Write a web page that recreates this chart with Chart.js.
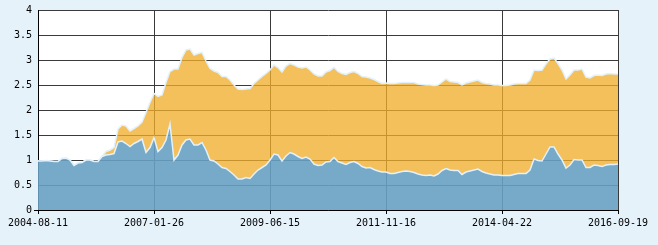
<!DOCTYPE html>
<html lang="en">
<head>
    <meta charset="UTF-8">
    <title>Ratio chart</title>
    <script src="https://cdn.jsdelivr.net/npm/chart.js"></script>
    <style>
        html, body { margin: 0; padding: 0; background: #e6f2fa; }
        #wrap { width: 658px; height: 245px; }
    </style>
</head>
<body>
    <div id="wrap"><canvas id="chart" width="658" height="245"></canvas></div>

    <script>
        // tick labels shown on the x axis (every 29 points)
        const tickLabels = ['2004-08-11', '2007-01-26', '2009-06-15', '2011-11-16', '2014-04-22', '2016-09-19'];
        const tickStep = 29;

        // lower (blue) series
        const blueValues = [
            0.98, 0.98, 0.99, 0.98, 0.97, 0.97, 1.03, 1.04, 1.0, 0.89, 0.94, 0.95, 1.0, 1.0, 0.97, 0.97, 1.07,
            1.1, 1.11, 1.13, 1.36, 1.38, 1.33, 1.27, 1.33, 1.37, 1.42, 1.15,
            1.25, 1.45, 1.17, 1.25, 1.4, 1.72, 1.0, 1.1, 1.3, 1.4, 1.42, 1.3, 1.3, 1.35, 1.2, 1.0, 0.98, 0.92,
            0.85, 0.83, 0.77, 0.7, 0.62, 0.62, 0.65, 0.63, 0.72, 0.8, 0.85, 0.9, 1.0,
            1.12, 1.1, 0.98, 1.08, 1.15, 1.12, 1.07, 1.03, 1.06, 1.02, 0.92, 0.89, 0.9, 0.96, 0.97, 1.05,
            0.97, 0.94, 0.91, 0.95, 0.97, 0.93, 0.87, 0.84, 0.85, 0.81, 0.78, 0.76, 0.76, 0.73,
            0.73, 0.75, 0.77, 0.78, 0.77, 0.75, 0.72, 0.7, 0.69, 0.7, 0.68, 0.72, 0.79, 0.83, 0.8, 0.79,
            0.79, 0.71, 0.76, 0.78, 0.8, 0.82, 0.77, 0.74, 0.72, 0.7, 0.7, 0.69, 0.69,
            0.69, 0.71, 0.73, 0.73, 0.73, 0.8, 1.02, 0.99, 0.98, 1.12, 1.26, 1.26, 1.12, 1.0, 0.84, 0.9,
            1.01, 1.0, 1.0, 0.85, 0.85, 0.9, 0.89, 0.87, 0.9, 0.91, 0.91, 0.92
        ];

        // upper (orange) series
        const orangeValues = [
            0.98, 0.98, 0.99, 0.98, 0.97, 0.97, 1.03, 1.04, 1.0, 0.89, 0.94, 0.95, 1.0, 1.0, 0.97, 0.97, 1.07,
            1.17, 1.2, 1.25, 1.62, 1.7, 1.68, 1.58, 1.63, 1.68, 1.76, 1.95,
            2.15, 2.33, 2.27, 2.3, 2.55, 2.77, 2.82, 2.82, 3.05, 3.2, 3.22, 3.1, 3.13, 3.15, 2.98, 2.83, 2.78, 2.75,
            2.67, 2.67, 2.6, 2.5, 2.42, 2.41, 2.42, 2.43, 2.53, 2.6, 2.67, 2.73, 2.8,
            2.9, 2.85, 2.76, 2.88, 2.93, 2.9, 2.86, 2.84, 2.86, 2.8, 2.72, 2.68, 2.68, 2.76, 2.79, 2.85,
            2.77, 2.73, 2.71, 2.75, 2.77, 2.73, 2.67, 2.66, 2.64, 2.61, 2.57, 2.53, 2.54, 2.53,
            2.53, 2.54, 2.55, 2.55, 2.55, 2.55, 2.52, 2.51, 2.5, 2.5, 2.49, 2.5, 2.56, 2.62, 2.57, 2.56,
            2.55, 2.5, 2.54, 2.56, 2.58, 2.6, 2.55, 2.53, 2.52, 2.5, 2.5, 2.49, 2.49,
            2.5, 2.52, 2.53, 2.53, 2.53, 2.6, 2.8, 2.79, 2.8, 2.92, 3.02, 3.04, 2.93, 2.8, 2.62, 2.7,
            2.8, 2.8, 2.82, 2.66, 2.64, 2.69, 2.7, 2.69, 2.72, 2.73, 2.72, 2.72
        ];

        const toPoints = arr => arr.map((v, i) => ({ x: i, y: v }));

        // white plot background
        const plotBg = {
            id: 'plotBg',
            beforeDraw(chart) {
                const a = chart.chartArea;
                chart.ctx.save();
                chart.ctx.fillStyle = '#ffffff';
                chart.ctx.fillRect(a.left, a.top, a.right - a.left, a.bottom - a.top);
                chart.ctx.restore();
            }
        };

        const tickFont = { family: 'DejaVu Sans Mono', size: 10 };

        new Chart(document.getElementById('chart'), {
            type: 'line',
            data: {
                datasets: [{
                    label: 'blue',
                    data: toPoints(blueValues),
                    borderColor: '#e2f1fb',
                    borderWidth: 1.5,
                    backgroundColor: 'rgba(103,161,194,0.9)',
                    fill: 'origin',
                    pointRadius: 0,
                    tension: 0
                }, {
                    label: 'orange',
                    data: toPoints(orangeValues),
                    borderColor: '#e2f1fb',
                    borderWidth: 1.5,
                    backgroundColor: 'rgba(240,173,43,0.77)',
                    fill: '-1',
                    pointRadius: 0,
                    tension: 0
                }]
            },
            options: {
                responsive: false,
                animation: false,
                layout: { padding: { top: 10, right: 40, left: 0, bottom: 0 } },
                plugins: { legend: { display: false }, tooltip: { enabled: false } },
                scales: {
                    x: {
                        type: 'linear',
                        min: 0,
                        max: blueValues.length - 1,
                        afterFit: s => { s.height = 35; },
                        border: { color: '#000', width: 1 },
                        grid: { color: '#3a3a3a', tickColor: '#000', tickLength: 4 },
                        ticks: {
                            stepSize: tickStep,
                            autoSkip: false,
                            maxRotation: 0,
                            padding: 3,
                            color: '#000',
                            font: tickFont,
                            callback: v => tickLabels[v / tickStep] || ''
                        }
                    },
                    y: {
                        min: 0,
                        max: 4,
                        afterFit: s => { s.width = 38; },
                        border: { color: '#000', width: 1 },
                        grid: {
                            color: '#3a3a3a',
                            tickLength: 4,
                            tickColor: c => c.tick && c.tick.value === 0 ? '#000' : 'rgba(0,0,0,0)'
                        },
                        ticks: {
                            stepSize: 0.5,
                            padding: 2,
                            color: '#000',
                            font: tickFont,
                            callback: v => String(v)
                        }
                    }
                }
            },
            plugins: [plotBg]
        });
    </script>
</body>
</html>
